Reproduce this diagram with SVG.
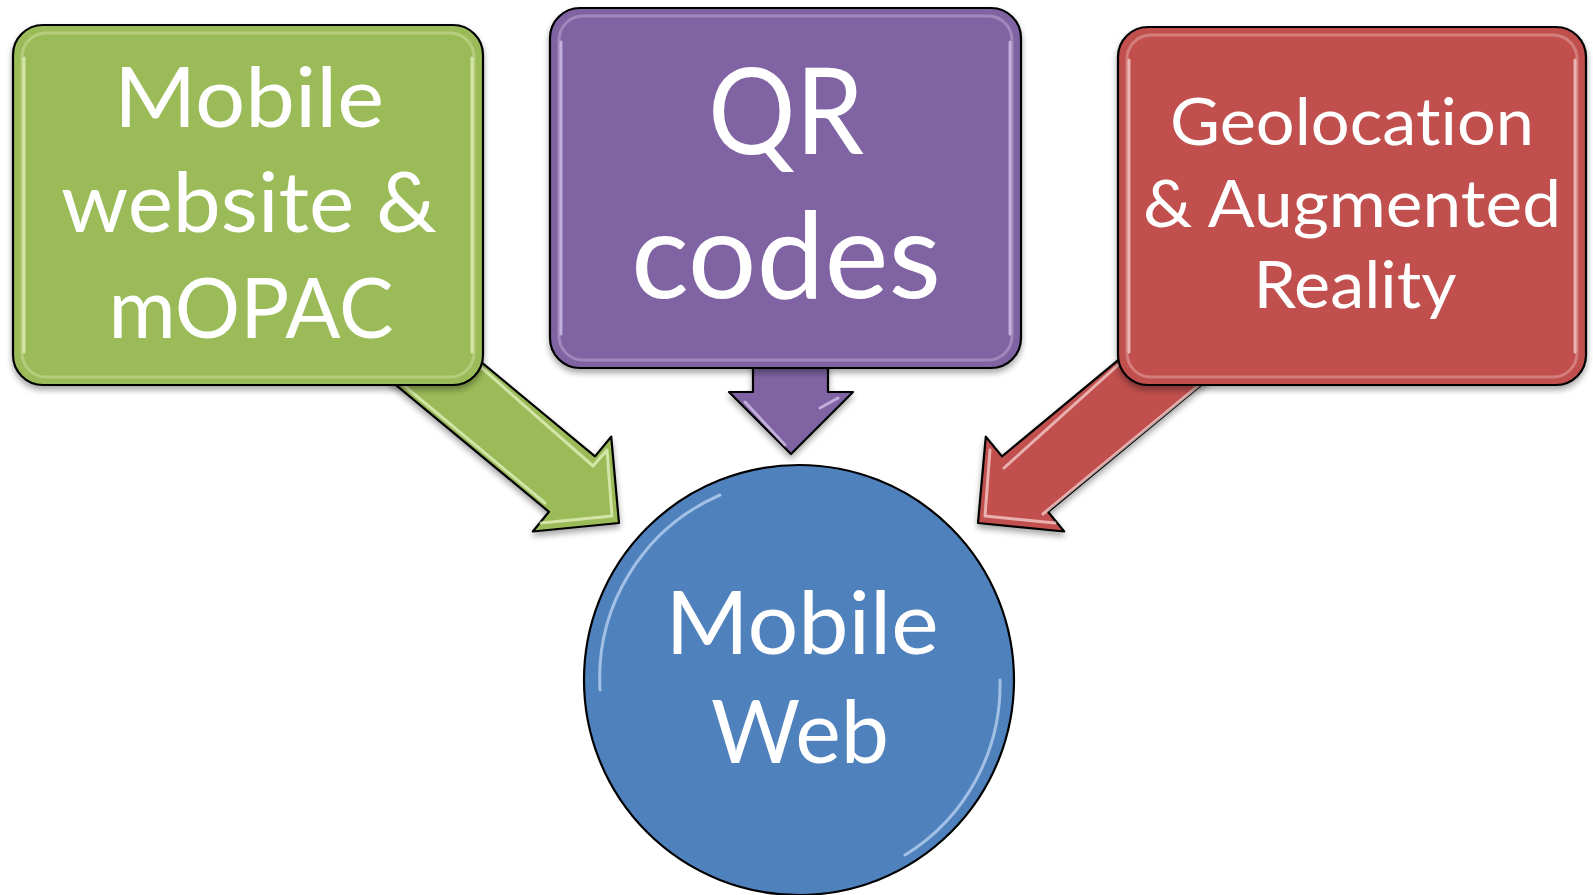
<svg xmlns="http://www.w3.org/2000/svg" width="1593" height="895" viewBox="0 0 1593 895">
  <defs>
    <filter id="shadow" x="-10%" y="-10%" width="120%" height="125%">
      <feGaussianBlur in="SourceAlpha" stdDeviation="3"/>
      <feOffset dx="0" dy="4" result="b"/>
      <feComponentTransfer><feFuncA type="linear" slope="0.35"/></feComponentTransfer>
      <feMerge><feMergeNode/><feMergeNode in="SourceGraphic"/></feMerge>
    </filter>
  </defs>
  <style>
    .outline { stroke: #000000; stroke-width: 2.2; stroke-linejoin: round; }
    .green { fill: #9BBB59; }
    .purple { fill: #8064A2; }
    .red { fill: #C0504D; }
    .blue { fill: #4F81BD; }
    .hl { fill: none; stroke-width: 3; stroke-linejoin: round; stroke-linecap: round; }
    .hl-green { stroke: #E4F2C0; opacity: 0.75; }
    .hl-purple { stroke: #DCCCF2; opacity: 0.7; }
    .hl-red { stroke: #F6D2D0; opacity: 0.75; }
    .hl-blue { stroke: #C6DCF6; opacity: 0.7; }
    .soft { opacity: 0.35; }
    .label { font-family: Lato, "Open Sans", "Liberation Sans", sans-serif; fill: #FFFFFF; text-anchor: middle; font-variant-ligatures: none; font-feature-settings: "liga" 0, "clig" 0; }
  </style>

  <g id="connectors">
    <g id="arrow-green" filter="url(#shadow)">
      <polygon class="green outline" points="417.9,309.7 595.0,456.4 611.2,436.7 619,523 532.8,531.5 549.0,511.8 371.9,365.1"/>
      <polyline class="hl hl-green" points="425,318 593,466 607,450 612,516 541,523"/>
      <line class="hl hl-green" x1="383" y1="368" x2="545" y2="503"/>
    </g>
    <g id="arrow-purple" filter="url(#shadow)">
      <polygon class="purple outline" points="753,350 828,350 828,392 853,392 791,454 729,392 753,392"/>
      <line class="hl hl-purple" x1="745" y1="402" x2="785" y2="445" opacity="0.6"/>
      <line class="hl hl-purple" x1="838" y1="398" x2="820" y2="408" opacity="0.6"/>
    </g>
    <g id="arrow-red" filter="url(#shadow)">
      <polygon class="red outline" points="1179.1,309.7 1002.0,456.4 985.8,436.7 978,523 1064.2,531.5 1048.0,511.8 1225.1,365.1"/>
      <line class="hl hl-red" x1="1168" y1="320" x2="1004" y2="468"/>
      <line class="hl hl-red" x1="1215" y1="372" x2="1043" y2="514"/>
      <polyline class="hl hl-red" points="990,450 985,516 1055,523" opacity="0.5"/>
    </g>
  </g>

  <g id="node-mobile-website" filter="url(#shadow)">
    <rect class="green outline" x="13" y="25" width="470" height="360" rx="30" ry="30"/>
    <rect class="hl hl-green soft" x="22" y="33" width="452" height="344" rx="24" ry="24"/>
    <line class="hl hl-green" x1="24" y1="58" x2="24" y2="352"/>
    <line class="hl hl-green" x1="472" y1="58" x2="472" y2="352"/>
    <text class="label" font-size="84" x="249" y="127" textLength="270" lengthAdjust="spacingAndGlyphs">Mobile</text>
    <text class="label" font-size="84" x="249" y="232" textLength="376" lengthAdjust="spacingAndGlyphs">website &amp;</text>
    <text class="label" font-size="84" x="251" y="338" textLength="285" lengthAdjust="spacingAndGlyphs">mOPAC</text>
  </g>

  <g id="node-qr-codes" filter="url(#shadow)">
    <rect class="purple outline" x="550" y="8" width="471" height="360" rx="30" ry="30"/>
    <rect class="hl hl-purple soft" x="559" y="16" width="453" height="344" rx="24" ry="24"/>
    <line class="hl hl-purple" x1="561" y1="42" x2="561" y2="334"/>
    <line class="hl hl-purple" x1="1010" y1="42" x2="1010" y2="334"/>
    <text class="label" font-size="120" x="786" y="154" textLength="156" lengthAdjust="spacingAndGlyphs">QR</text>
    <text class="label" font-size="120" x="786" y="298" textLength="310" lengthAdjust="spacingAndGlyphs">codes</text>
  </g>

  <g id="node-geolocation" filter="url(#shadow)">
    <rect class="red outline" x="1118" y="27" width="468" height="358" rx="30" ry="30"/>
    <rect class="hl hl-red soft" x="1127" y="35" width="450" height="342" rx="24" ry="24"/>
    <line class="hl hl-red" x1="1129" y1="60" x2="1129" y2="352"/>
    <line class="hl hl-red" x1="1575" y1="60" x2="1575" y2="352"/>
    <text class="label" font-size="66" x="1352" y="145" textLength="364" lengthAdjust="spacingAndGlyphs">Geolocation</text>
    <text class="label" font-size="66" x="1352" y="227" textLength="418" lengthAdjust="spacingAndGlyphs">&amp; Augmented</text>
    <text class="label" font-size="66" x="1355" y="308" textLength="203" lengthAdjust="spacingAndGlyphs">Reality</text>
  </g>

  <g id="node-mobile-web">
    <circle class="blue outline" cx="799" cy="680" r="215"/>
    <path class="hl hl-blue" d="M 600 690 A 200 200 0 0 1 720 495"/>
    <path class="hl hl-blue" d="M 1000 680 A 200 200 0 0 1 905 855"/>
    <text class="label" font-size="87" x="802" y="654" textLength="273" lengthAdjust="spacingAndGlyphs">Mobile</text>
    <text class="label" font-size="87" x="800" y="763" textLength="178" lengthAdjust="spacingAndGlyphs">Web</text>
  </g>
</svg>
